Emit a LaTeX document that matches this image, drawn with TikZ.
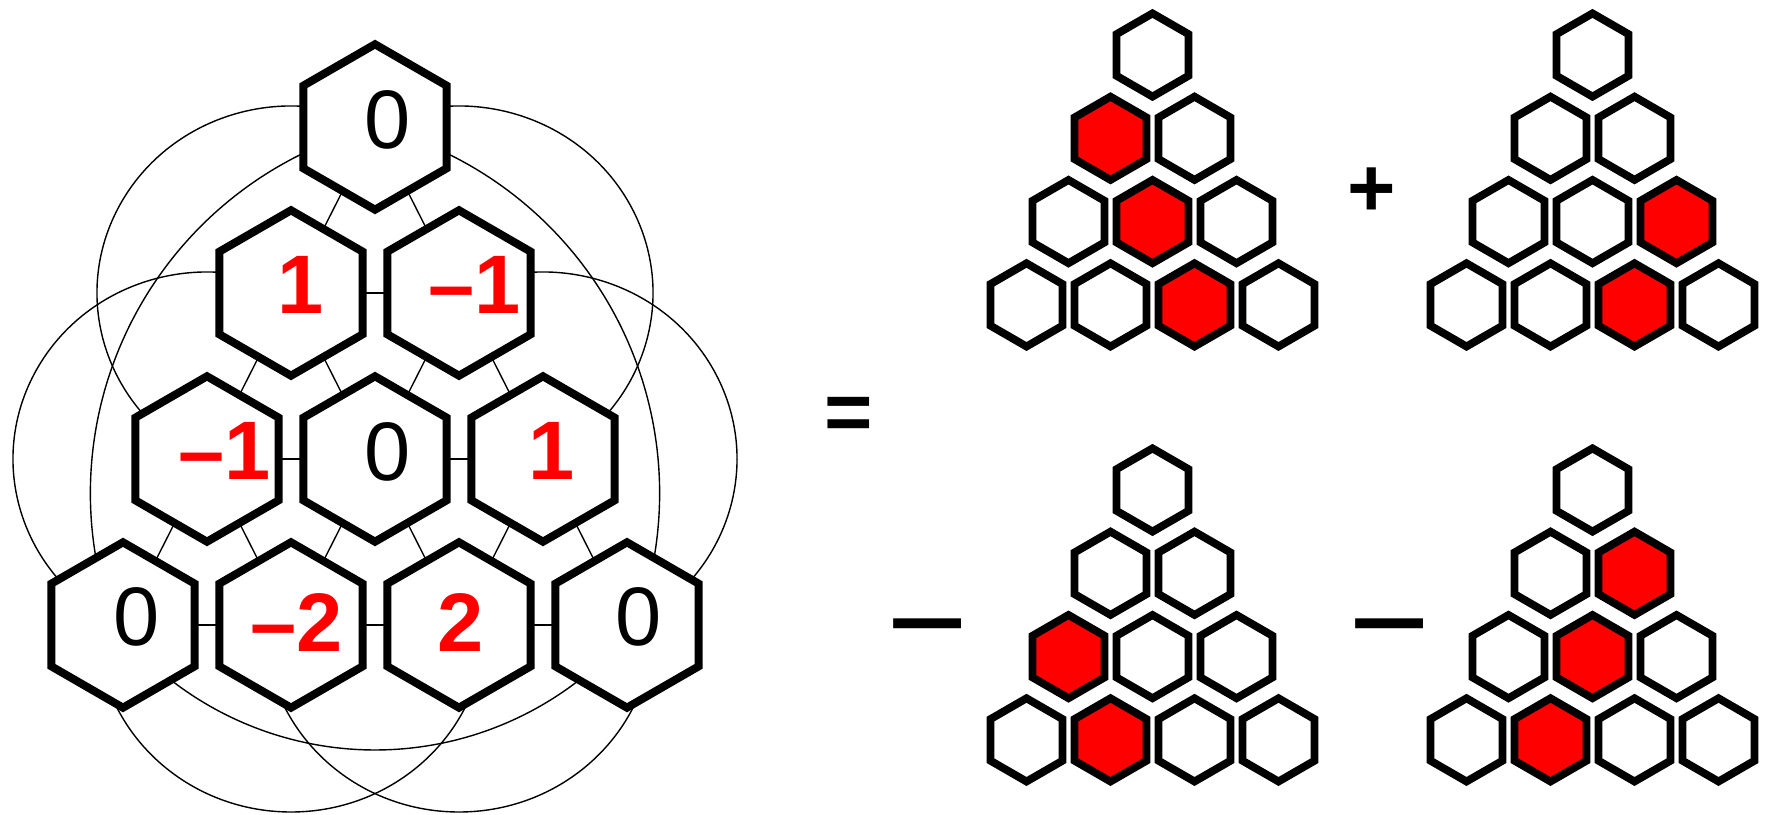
\documentclass[tikz,border=0pt]{standalone}
\usepackage{fontspec}
\setmainfont{Liberation Sans}
\usetikzlibrary{shapes.geometric}
\pgfdeclarelayer{bg}
\pgfsetlayers{bg,main}
\definecolor{hexred}{RGB}{255,0,0}
\tikzset{
  bighex/.style={regular polygon, regular polygon sides=6, shape border rotate=30,
    minimum size=165.4pt, inner sep=0pt, outer sep=0pt, draw=black, line width=8pt, fill=white},
  smallhex/.style={regular polygon, regular polygon sides=6, shape border rotate=30,
    minimum size=83.2pt, inner sep=0pt, outer sep=0pt, draw=black, line width=7.8pt, fill=white},
  conn/.style={line width=1.4pt, draw=black},
  lblk/.style={font=\fontsize{83}{90}\selectfont, inner sep=0pt, text=black},
  lblr/.style={font=\fontsize{83}{90}\selectfont\bfseries, inner sep=0pt, text=hexred},
  sign/.style={font=\fontsize{83}{90}\selectfont\bfseries, inner sep=0pt, text=black},
  ra10/.style={fill=hexred}, ra21/.style={fill=hexred}, ra32/.style={fill=hexred},
  rb22/.style={fill=hexred}, rb32/.style={fill=hexred},
  rc20/.style={fill=hexred}, rc31/.style={fill=hexred},
  rd11/.style={fill=hexred}, rd21/.style={fill=hexred}, rd31/.style={fill=hexred}
}
\begin{document}
\begin{tikzpicture}[x=1pt,y=1pt]
\useasboundingbox (0,0) rectangle (1766,814);

% big hexagons
\node[bighex] (h00) at (375,687) {};
\node[bighex] (h10) at (291,521) {};
\node[bighex] (h11) at (459,521) {};
\node[bighex] (h20) at (207,355) {};
\node[bighex] (h21) at (375,355) {};
\node[bighex] (h22) at (543,355) {};
\node[bighex] (h30) at (123,189) {};
\node[bighex] (h31) at (291,189) {};
\node[bighex] (h32) at (459,189) {};
\node[bighex] (h33) at (627,189) {};

\begin{pgfonlayer}{bg}
  % short connectors
  \foreach \a/\b in {h00/h10,h00/h11,h10/h11,h10/h20,h10/h21,h11/h21,h11/h22,
                     h20/h21,h21/h22,h20/h30,h20/h31,h21/h31,h21/h32,h22/h32,h22/h33,
                     h30/h31,h31/h32,h32/h33}
    \draw[conn] (\a.center) -- (\b.center);
  % arcs around single hexes
  \draw[conn] ([shift={(63:194 and 187)}]h10.center) arc[start angle=63, end angle=243, x radius=194, y radius=187];
  \draw[conn] ([shift={(117:194 and 187)}]h11.center) arc[start angle=117, end angle=-63, x radius=194, y radius=187];
  \draw[conn] ([shift={(63:194 and 187)}]h20.center) arc[start angle=63, end angle=243, x radius=194, y radius=187];
  \draw[conn] ([shift={(117:194 and 187)}]h22.center) arc[start angle=117, end angle=-63, x radius=194, y radius=187];
  \draw[conn] ([shift={(180:194 and 187)}]h31.center) arc[start angle=180, end angle=360, x radius=194, y radius=187];
  \draw[conn] ([shift={(180:194 and 187)}]h32.center) arc[start angle=180, end angle=360, x radius=194, y radius=187];
  % big arcs between corners
  \draw[conn] (h00.center) arc[start angle=104.3, end angle=201, radius=378];
  \draw[conn] (h00.center) arc[start angle=75.7, end angle=-21, radius=378];
  \draw[conn] ([shift={(-4.9,-3.8)}]h30.center) arc[start angle=219.5, end angle=320.5, radius=333];
\end{pgfonlayer}

% labels
\node[lblk] (t00) at (387.5,694) {0};
\node[lblr] (t10) at (301,529) {1};
\node[lblr] (t11) at (474.5,529) {–1};
\node[lblr] (t20) at (224.5,363) {–1};
\node[lblk] (t21) at (387.5,362) {0};
\node[lblr] (t22) at (551.5,363) {1};
\node[lblk] (t30) at (137,197) {0};
\node[lblr] (t31) at (297,191.5) {–2};
\node[lblr] (t32) at (461,191) {2};
\node[lblk] (t33) at (638.5,197) {0};

% small triangles
\foreach \t/\dx/\dy in {a/0/0, b/440/0, c/0/-435, d/440/-435} {
  \foreach \i in {0,...,3} {
    \foreach \j in {0,...,\i} {
      \node[smallhex, r\t\i\j/.try] (\t\i\j) at ({1152.5+\dx+42*(2*\j-\i)}, {759+\dy-83.3*\i}) {};
    }
  }
}

% operators
\node[sign] (eq) at (848.5,394.7) {=};
\node[sign] (plus) at (1371.9,621.4) {+};
\node[sign] (m1) at (927.5,179.3) {\scalebox{1.65}[1.2]{–}};
\node[sign] (m2) at (1389.3,179) {\scalebox{1.65}[1.2]{–}};
\end{tikzpicture}
\end{document}
